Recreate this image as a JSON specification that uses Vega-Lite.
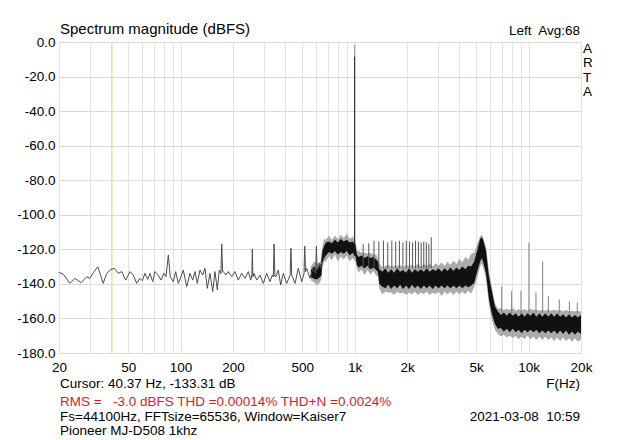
{
  "$schema": "https://vega.github.io/schema/vega-lite/v6.json",
  "width": 522,
  "height": 311,
  "autosize": {"type": "none"},
  "padding": {"left": 59, "top": 42, "right": 59, "bottom": 87},
  "background": "white",
  "config": {
    "view": {"stroke": "#a0a0a0", "strokeWidth": 1},
    "font": "Liberation Sans",
    "axis": {"labelFont": "Liberation Sans", "labelFontSize": 13.5, "labelColor": "#000000", "domain": false, "ticks": false, "gridWidth": 1, "labelOverlap": false, "labelFlush": false},
    "axisY": {"labelOverlap": false, "labelPadding": 4, "gridColor": "#d9d9d9", "tickCount": 10},
    "axisX": {"labelOverlap": false, "labelPadding": 7, "gridColor": "#e3e3e3"}
  },
  "datasets": {
    "lf": [
      {"f": 20, "db": -133.3}, {"f": 21.2, "db": -134.5}, {"f": 23.1, "db": -139.7}, {"f": 24.7, "db": -136.8},
      {"f": 26.8, "db": -139.3}, {"f": 28.9, "db": -135.8}, {"f": 30.1, "db": -136.8}, {"f": 31.5, "db": -133.5},
      {"f": 33.4, "db": -130.1}, {"f": 34.4, "db": -133.9}, {"f": 35.9, "db": -139.7}, {"f": 37.6, "db": -133.9},
      {"f": 39.8, "db": -131.6}, {"f": 41.6, "db": -131.0}, {"f": 43.8, "db": -133.9}, {"f": 45.9, "db": -132.9},
      {"f": 48.3, "db": -137.8}, {"f": 51.2, "db": -132.9}, {"f": 53.5, "db": -134.9}, {"f": 55.9, "db": -139.7},
      {"f": 58.4, "db": -136.8}, {"f": 60.2, "db": -138.2}, {"f": 62.4, "db": -133.9}, {"f": 64.7, "db": -137.4},
      {"f": 66.7, "db": -133.9}, {"f": 69.1, "db": -138.7}, {"f": 71.2, "db": -132.9}, {"f": 74.4, "db": -134.9},
      {"f": 77.1, "db": -137.8}, {"f": 80.2, "db": -133.9}, {"f": 82.4, "db": -135.8}, {"f": 85.0, "db": -123.3},
      {"f": 87.2, "db": -135.8}, {"f": 90.8, "db": -138.7}, {"f": 93.7, "db": -132.9}, {"f": 97.0, "db": -139.7},
      {"f": 100.5, "db": -135.8}, {"f": 103.6, "db": -132.0}, {"f": 108.4, "db": -141.6}, {"f": 113.2, "db": -133.9},
      {"f": 117.3, "db": -137.8}, {"f": 121.0, "db": -132.9}, {"f": 124.7, "db": -139.7}, {"f": 129.2, "db": -132.0},
      {"f": 133.9, "db": -134.9}, {"f": 138.0, "db": -131.0}, {"f": 142.3, "db": -142.6}, {"f": 147.5, "db": -133.9},
      {"f": 152.9, "db": -144.5}, {"f": 157.6, "db": -132.9}, {"f": 162.5, "db": -143.5}, {"f": 166.8, "db": -132.0},
      {"f": 170.5, "db": -134.0}, {"f": 172.3, "db": -116.9}, {"f": 174.2, "db": -133.0}, {"f": 175.9, "db": -132.9},
      {"f": 182.3, "db": -134.9}, {"f": 187.9, "db": -132.9}, {"f": 196.6, "db": -135.8}, {"f": 205.4, "db": -132.9},
      {"f": 214.6, "db": -137.8}, {"f": 224.4, "db": -133.9}, {"f": 234.4, "db": -136.8}, {"f": 244.9, "db": -132.9},
      {"f": 252.9, "db": -137.8}, {"f": 256.5, "db": -135.0}, {"f": 258.4, "db": -119.8}, {"f": 260.3, "db": -136.0},
      {"f": 264.1, "db": -133.9}, {"f": 273.7, "db": -137.8}, {"f": 286.0, "db": -134.9}, {"f": 298.8, "db": -139.7},
      {"f": 312.4, "db": -133.9}, {"f": 326.4, "db": -138.7}, {"f": 336.4, "db": -134.9}, {"f": 341.0, "db": -136.0},
      {"f": 344.5, "db": -116.9}, {"f": 348.0, "db": -135.5}, {"f": 353.3, "db": -135.8}, {"f": 364.2, "db": -132.0},
      {"f": 376.0, "db": -140.6}, {"f": 389.2, "db": -133.9}, {"f": 407.0, "db": -139.7}, {"f": 426.0, "db": -135.0},
      {"f": 430.6, "db": -119.4}, {"f": 435.0, "db": -134.9}, {"f": 454.4, "db": -139.7}, {"f": 474.6, "db": -131.0},
      {"f": 496.4, "db": -138.7}, {"f": 512.0, "db": -134.0}, {"f": 516.8, "db": -118.1}, {"f": 522.0, "db": -133.0},
      {"f": 530.4, "db": -131.0}, {"f": 554.0, "db": -136.8}, {"f": 578.8, "db": -130.1}, {"f": 597.0, "db": -134.0},
      {"f": 602.9, "db": -118.1}, {"f": 609.0, "db": -132.0}, {"f": 626.6, "db": -128.1}, {"f": 640.0, "db": -131.0},
      {"f": 652.0, "db": -122.0}
    ],
    "band": [
      {"f": 560, "hi": -132, "lo": -136, "ghi": -130, "glo": -138},
      {"f": 585, "hi": -130, "lo": -137, "ghi": -127, "glo": -139},
      {"f": 608, "hi": -131.5, "lo": -137.5, "ghi": -128, "glo": -141},
      {"f": 633, "hi": -129, "lo": -136, "ghi": -127.5, "glo": -139},
      {"f": 645, "hi": -128, "lo": -135, "ghi": -124, "glo": -137},
      {"f": 652, "hi": -121, "lo": -128, "ghi": -119, "glo": -131},
      {"f": 668, "hi": -118, "lo": -125, "ghi": -114, "glo": -127},
      {"f": 684, "hi": -116, "lo": -123.5, "ghi": -114.5, "glo": -127},
      {"f": 712, "hi": -115.5, "lo": -121.5, "ghi": -112, "glo": -124},
      {"f": 740, "hi": -116.5, "lo": -122.5, "ghi": -114.5, "glo": -126.5},
      {"f": 770, "hi": -114.5, "lo": -121, "ghi": -112, "glo": -123},
      {"f": 801, "hi": -116, "lo": -123, "ghi": -114, "glo": -127},
      {"f": 833, "hi": -114, "lo": -121.5, "ghi": -111.5, "glo": -124},
      {"f": 866, "hi": -115.5, "lo": -122.5, "ghi": -113.5, "glo": -126},
      {"f": 901, "hi": -114.5, "lo": -121, "ghi": -111, "glo": -123.5},
      {"f": 937, "hi": -116, "lo": -123.5, "ghi": -114, "glo": -127},
      {"f": 974, "hi": -115.5, "lo": -122, "ghi": -112.5, "glo": -125},
      {"f": 1013, "hi": -117.5, "lo": -124, "ghi": -115, "glo": -127.5},
      {"f": 1030, "hi": -123, "lo": -129, "ghi": -121, "glo": -131},
      {"f": 1054, "hi": -124.5, "lo": -130.5, "ghi": -121, "glo": -133.5},
      {"f": 1096, "hi": -123.5, "lo": -129.5, "ghi": -122, "glo": -131.5},
      {"f": 1140, "hi": -125, "lo": -131, "ghi": -122, "glo": -135},
      {"f": 1185, "hi": -124, "lo": -129.5, "ghi": -122.5, "glo": -132},
      {"f": 1233, "hi": -125, "lo": -131.5, "ghi": -122, "glo": -134.5},
      {"f": 1282, "hi": -124.5, "lo": -130.5, "ghi": -123, "glo": -132.5},
      {"f": 1333, "hi": -126, "lo": -132, "ghi": -123, "glo": -135.5},
      {"f": 1360, "hi": -127, "lo": -133, "ghi": -125, "glo": -135},
      {"f": 1387, "hi": -131.5, "lo": -140, "ghi": -128, "glo": -143},
      {"f": 1442, "hi": -133, "lo": -141.5, "ghi": -130.5, "glo": -146},
      {"f": 1500, "hi": -131, "lo": -142.5, "ghi": -129.5, "glo": -144.5},
      {"f": 1560, "hi": -133.5, "lo": -140.5, "ghi": -129, "glo": -145},
      {"f": 1622, "hi": -131.5, "lo": -143, "ghi": -130, "glo": -145},
      {"f": 1687, "hi": -133.5, "lo": -141, "ghi": -129.5, "glo": -146.5},
      {"f": 1755, "hi": -131, "lo": -142.5, "ghi": -129.5, "glo": -144.5},
      {"f": 1825, "hi": -133, "lo": -140.5, "ghi": -129, "glo": -145.5},
      {"f": 1898, "hi": -132, "lo": -143, "ghi": -130.5, "glo": -145},
      {"f": 1974, "hi": -133.5, "lo": -141, "ghi": -129, "glo": -146.5},
      {"f": 2053, "hi": -131, "lo": -143, "ghi": -129.5, "glo": -145},
      {"f": 2135, "hi": -133.5, "lo": -140.5, "ghi": -129, "glo": -146},
      {"f": 2220, "hi": -131.5, "lo": -142.5, "ghi": -130, "glo": -144.5},
      {"f": 2309, "hi": -133, "lo": -141, "ghi": -128.5, "glo": -146.5},
      {"f": 2402, "hi": -131.5, "lo": -143, "ghi": -130, "glo": -145},
      {"f": 2498, "hi": -133, "lo": -141, "ghi": -128.5, "glo": -146},
      {"f": 2598, "hi": -131, "lo": -142.5, "ghi": -129.5, "glo": -144.5},
      {"f": 2701, "hi": -133, "lo": -141, "ghi": -128, "glo": -146.5},
      {"f": 2809, "hi": -131.5, "lo": -143, "ghi": -130, "glo": -145},
      {"f": 2922, "hi": -132.5, "lo": -141, "ghi": -128, "glo": -146},
      {"f": 3038, "hi": -131, "lo": -142.5, "ghi": -129.5, "glo": -144.5},
      {"f": 3160, "hi": -133, "lo": -141, "ghi": -127.5, "glo": -147},
      {"f": 3286, "hi": -131, "lo": -142.5, "ghi": -129.5, "glo": -144.5},
      {"f": 3418, "hi": -132.5, "lo": -141, "ghi": -127, "glo": -146},
      {"f": 3554, "hi": -130.5, "lo": -142.5, "ghi": -129, "glo": -144.5},
      {"f": 3697, "hi": -132.5, "lo": -141, "ghi": -126.5, "glo": -146.5},
      {"f": 3845, "hi": -130.5, "lo": -142.5, "ghi": -128.5, "glo": -144.5},
      {"f": 3998, "hi": -132, "lo": -141, "ghi": -125.5, "glo": -146},
      {"f": 4158, "hi": -130, "lo": -142.5, "ghi": -127.5, "glo": -144.5},
      {"f": 4325, "hi": -131.5, "lo": -141, "ghi": -124.5, "glo": -146},
      {"f": 4498, "hi": -129.5, "lo": -142, "ghi": -126, "glo": -144},
      {"f": 4678, "hi": -130, "lo": -141, "ghi": -122.5, "glo": -145.5},
      {"f": 4865, "hi": -127, "lo": -139.5, "ghi": -122, "glo": -142},
      {"f": 5059, "hi": -121, "lo": -133, "ghi": -117, "glo": -137},
      {"f": 5262, "hi": -114, "lo": -127, "ghi": -112.5, "glo": -130},
      {"f": 5370, "hi": -113, "lo": -125, "ghi": -111.5, "glo": -128},
      {"f": 5472, "hi": -114.5, "lo": -127, "ghi": -113, "glo": -130.5},
      {"f": 5691, "hi": -121, "lo": -134, "ghi": -118.5, "glo": -137},
      {"f": 5919, "hi": -136, "lo": -149, "ghi": -133, "glo": -152},
      {"f": 6156, "hi": -144.5, "lo": -157.5, "ghi": -142, "glo": -161},
      {"f": 6402, "hi": -153, "lo": -163, "ghi": -151, "glo": -166.5},
      {"f": 6658, "hi": -156, "lo": -166, "ghi": -154.5, "glo": -169},
      {"f": 6925, "hi": -158, "lo": -165.5, "ghi": -154, "glo": -170.5},
      {"f": 7202, "hi": -156.5, "lo": -167.5, "ghi": -155, "glo": -169.5},
      {"f": 7490, "hi": -158.5, "lo": -166, "ghi": -154.5, "glo": -171},
      {"f": 7789, "hi": -156.5, "lo": -168, "ghi": -155, "glo": -170},
      {"f": 8101, "hi": -158.5, "lo": -166, "ghi": -154, "glo": -171.5},
      {"f": 8425, "hi": -157, "lo": -168, "ghi": -155.5, "glo": -170},
      {"f": 8762, "hi": -159, "lo": -166.5, "ghi": -154.5, "glo": -172},
      {"f": 9112, "hi": -157, "lo": -168.5, "ghi": -155.5, "glo": -170.5},
      {"f": 9477, "hi": -159, "lo": -166.5, "ghi": -154.5, "glo": -172},
      {"f": 9856, "hi": -157, "lo": -168, "ghi": -155.5, "glo": -170},
      {"f": 10250, "hi": -158.5, "lo": -166.5, "ghi": -154.5, "glo": -172},
      {"f": 10660, "hi": -156.5, "lo": -168, "ghi": -155, "glo": -170.5},
      {"f": 11087, "hi": -159, "lo": -166.5, "ghi": -155, "glo": -172.5},
      {"f": 11530, "hi": -157, "lo": -168.5, "ghi": -155.5, "glo": -170.5},
      {"f": 11992, "hi": -159, "lo": -167, "ghi": -155, "glo": -172.5},
      {"f": 12471, "hi": -157, "lo": -168.5, "ghi": -155.5, "glo": -170.5},
      {"f": 12970, "hi": -159, "lo": -167, "ghi": -155, "glo": -172.5},
      {"f": 13489, "hi": -157, "lo": -168.5, "ghi": -155.5, "glo": -171},
      {"f": 14029, "hi": -159, "lo": -167, "ghi": -155, "glo": -173},
      {"f": 14590, "hi": -157, "lo": -169, "ghi": -155.5, "glo": -171},
      {"f": 15173, "hi": -159, "lo": -167, "ghi": -155, "glo": -173},
      {"f": 15780, "hi": -157.5, "lo": -169, "ghi": -156, "glo": -171},
      {"f": 16412, "hi": -159.5, "lo": -167, "ghi": -155, "glo": -173},
      {"f": 17068, "hi": -157.5, "lo": -169.5, "ghi": -156, "glo": -171.5},
      {"f": 17751, "hi": -159.5, "lo": -167.5, "ghi": -155.5, "glo": -173.5},
      {"f": 18461, "hi": -158, "lo": -169.5, "ghi": -156, "glo": -171.5},
      {"f": 19199, "hi": -159.5, "lo": -167.5, "ghi": -155.5, "glo": -173.5},
      {"f": 20000, "hi": -158, "lo": -169, "ghi": -156, "glo": -172}
    ],
    "harm": [
      {"f": 1119.7, "top": -117}, {"f": 1205.8, "top": -116.5}, {"f": 1292.0, "top": -115}, {"f": 1378.1, "top": -115.5},
      {"f": 1464.2, "top": -115}, {"f": 1550.3, "top": -116}, {"f": 1636.5, "top": -115}, {"f": 1722.6, "top": -115.5},
      {"f": 1808.7, "top": -115}, {"f": 1894.9, "top": -116}, {"f": 1981.0, "top": -115}, {"f": 2067.1, "top": -115.5},
      {"f": 2153.3, "top": -116}, {"f": 2239.4, "top": -115}, {"f": 2325.5, "top": -115.5}, {"f": 2411.6, "top": -116},
      {"f": 2497.8, "top": -115.5}, {"f": 2583.9, "top": -116}, {"f": 2670.0, "top": -117}, {"f": 2756.2, "top": -113}
    ],
    "hf": [
      {"f": 7000, "top": -141.6}, {"f": 7990, "top": -144}, {"f": 9040, "top": -144}, {"f": 10040, "top": -116},
      {"f": 11020, "top": -145}, {"f": 12040, "top": -127}, {"f": 12980, "top": -147}, {"f": 15000, "top": -149},
      {"f": 17140, "top": -150}, {"f": 19040, "top": -151}
    ]
  },
  "layer": [
    {
      "data": {"name": "band"},
      "mark": {"type": "area", "color": "#ababab"},
      "encoding": {
        "x": {
          "field": "f", "type": "quantitative", "title": null,
          "scale": {"type": "log", "domain": [20, 20000], "nice": false},
          "axis": {
            "values": [20, 30, 40, 50, 60, 70, 80, 90, 100, 200, 300, 400, 500, 600, 700, 800, 900, 1000, 2000, 3000, 4000, 5000, 6000, 7000, 8000, 9000, 10000, 20000],
            "labelExpr": "indexof([20, 50, 100, 200, 500, 1000, 2000, 5000, 10000, 20000], datum.value) >= 0 ? (datum.value >= 1000 ? (datum.value / 1000) + 'k' : '' + datum.value) : ''",
            "labelOverlap": false, "labelFlush": false, "labelPadding": 7,
            "grid": true, "gridColor": "#e3e3e3", "domain": false, "ticks": false
          }
        },
        "y": {
          "field": "ghi", "type": "quantitative", "title": null,
          "scale": {"domain": [-180, 0], "nice": false},
          "axis": {
            "values": [-180, -160, -140, -120, -100, -80, -60, -40, -20, 0],
            "labelExpr": "(datum.value < 0 ? '-' : '') + format(abs(datum.value), '.1f')",
            "labelOverlap": false, "labelFlush": false, "labelBound": false,
            "labelPadding": 4, "grid": true, "gridColor": "#d9d9d9", "domain": false, "ticks": false
          }
        },
        "y2": {"field": "glo"}
      }
    },
    {
      "data": {"values": [{}]},
      "mark": {"type": "rule", "color": "#e4e094", "strokeWidth": 1},
      "encoding": {"x": {"datum": 40.37}, "y": {"datum": 0}, "y2": {"datum": -180}}
    },
    {
      "data": {"name": "band"},
      "mark": {"type": "area", "color": "#111111"},
      "encoding": {
        "x": {"field": "f", "type": "quantitative", "title": null},
        "y": {"field": "hi", "type": "quantitative", "title": null},
        "y2": {"field": "lo"}
      }
    },
    {
      "data": {"name": "lf"},
      "mark": {"type": "line", "color": "#4d4d4d", "strokeWidth": 1},
      "encoding": {
        "x": {"field": "f", "type": "quantitative", "title": null},
        "y": {"field": "db", "type": "quantitative", "title": null}
      }
    },
    {
      "data": {"name": "harm"},
      "mark": {"type": "rule", "color": "#555555", "strokeWidth": 1},
      "encoding": {
        "x": {"field": "f", "type": "quantitative", "title": null},
        "y": {"field": "top", "type": "quantitative", "title": null},
        "y2": {"datum": -131}
      }
    },
    {
      "data": {"name": "hf"},
      "mark": {"type": "rule", "color": "#808080", "strokeWidth": 1},
      "encoding": {
        "x": {"field": "f", "type": "quantitative", "title": null},
        "y": {"field": "top", "type": "quantitative", "title": null},
        "y2": {"datum": -157}
      }
    },
    {
      "data": {"values": [{}]},
      "mark": {"type": "rule", "color": "#9a9a9a", "strokeWidth": 1},
      "encoding": {"x": {"datum": 1000}, "y": {"datum": -1.5}, "y2": {"datum": -10}}
    },
    {
      "data": {"values": [{}]},
      "mark": {"type": "rule", "color": "#1a1a1a", "strokeWidth": 1},
      "encoding": {"x": {"datum": 1000}, "y": {"datum": -8.5}, "y2": {"datum": -124}}
    },
    {
      "data": {"values": [{}]},
      "mark": {"type": "text", "text": "Spectrum magnitude (dBFS)", "align": "left", "baseline": "alphabetic", "font": "Liberation Sans", "fontSize": 15, "color": "#000000"},
      "encoding": {"x": {"datum": 20.27}, "y": {"datum": 4.6}}
    },
    {
      "data": {"values": [{}]},
      "mark": {"type": "text", "text": "Left\u00a0 Avg:68", "align": "right", "baseline": "alphabetic", "font": "Liberation Sans", "fontSize": 13.5, "color": "#000000"},
      "encoding": {"x": {"datum": 19740}, "y": {"datum": 4.0}}
    },
    {
      "data": {"values": [{}]},
      "mark": {"type": "text", "text": "A", "align": "left", "baseline": "alphabetic", "font": "Liberation Sans", "fontSize": 13.5, "color": "#000000"},
      "encoding": {"x": {"datum": 20537}, "y": {"datum": -6.1}}
    },
    {
      "data": {"values": [{}]},
      "mark": {"type": "text", "text": "R", "align": "left", "baseline": "alphabetic", "font": "Liberation Sans", "fontSize": 13.5, "color": "#000000"},
      "encoding": {"x": {"datum": 20537}, "y": {"datum": -14.5}}
    },
    {
      "data": {"values": [{}]},
      "mark": {"type": "text", "text": "T", "align": "left", "baseline": "alphabetic", "font": "Liberation Sans", "fontSize": 13.5, "color": "#000000"},
      "encoding": {"x": {"datum": 20537}, "y": {"datum": -22.9}}
    },
    {
      "data": {"values": [{}]},
      "mark": {"type": "text", "text": "A", "align": "left", "baseline": "alphabetic", "font": "Liberation Sans", "fontSize": 13.5, "color": "#000000"},
      "encoding": {"x": {"datum": 20537}, "y": {"datum": -31.5}}
    },
    {
      "data": {"values": [{}]},
      "mark": {"type": "text", "text": "Cursor: 40.37 Hz, -133.31 dB", "align": "left", "baseline": "alphabetic", "font": "Liberation Sans", "fontSize": 13.5, "color": "#000000"},
      "encoding": {"x": {"datum": 20.27}, "y": {"datum": -200.0}}
    },
    {
      "data": {"values": [{}]},
      "mark": {"type": "text", "text": "F(Hz)", "align": "right", "baseline": "alphabetic", "font": "Liberation Sans", "fontSize": 13.5, "color": "#000000"},
      "encoding": {"x": {"datum": 19740}, "y": {"datum": -200.0}}
    },
    {
      "data": {"values": [{}]},
      "mark": {"type": "text", "text": "RMS =\u00a0 \u00a0-3.0 dBFS THD =0.00014% THD+N =0.0024%", "align": "left", "baseline": "alphabetic", "font": "Liberation Sans", "fontSize": 13.5, "color": "#e0181f"},
      "encoding": {"x": {"datum": 20.27}, "y": {"datum": -210.7}}
    },
    {
      "data": {"values": [{}]},
      "mark": {"type": "text", "text": "Fs=44100Hz, FFTsize=65536, Window=Kaiser7", "align": "left", "baseline": "alphabetic", "font": "Liberation Sans", "fontSize": 13.5, "color": "#000000"},
      "encoding": {"x": {"datum": 20.27}, "y": {"datum": -219.4}}
    },
    {
      "data": {"values": [{}]},
      "mark": {"type": "text", "text": "2021-03-08\u00a0 10:59", "align": "right", "baseline": "alphabetic", "font": "Liberation Sans", "fontSize": 13.5, "color": "#000000"},
      "encoding": {"x": {"datum": 19740}, "y": {"datum": -219.4}}
    },
    {
      "data": {"values": [{}]},
      "mark": {"type": "text", "text": "Pioneer MJ-D508 1khz", "align": "left", "baseline": "alphabetic", "font": "Liberation Sans", "fontSize": 13.5, "color": "#000000"},
      "encoding": {"x": {"datum": 20.27}, "y": {"datum": -227.5}}
    }
  ]
}
